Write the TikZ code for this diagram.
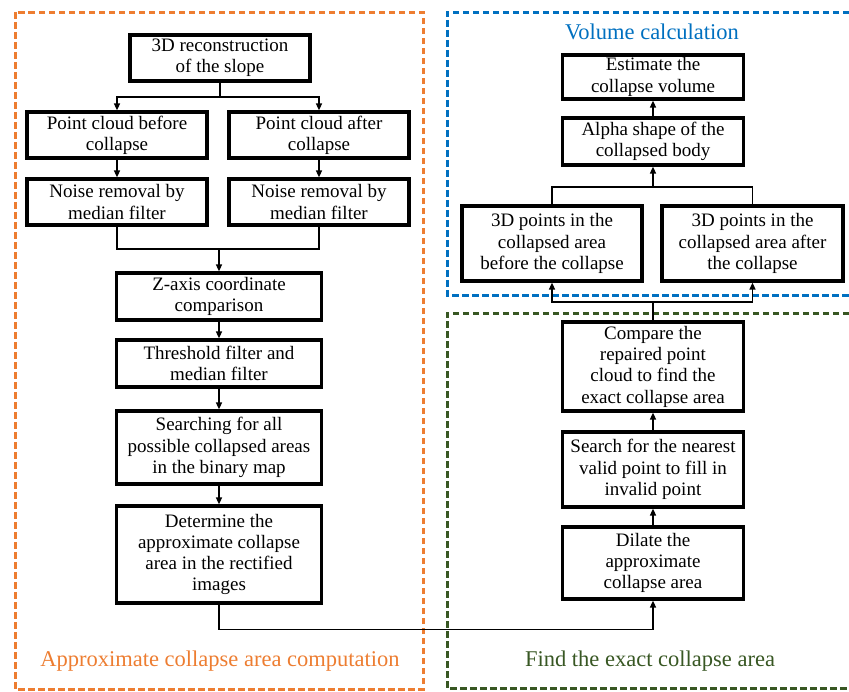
\documentclass[tikz,border=0pt]{standalone}
\usepackage{fontspec}
\setmainfont{Liberation Serif}
\usetikzlibrary{arrows.meta}
\definecolor{orgC}{HTML}{ED7D31}
\definecolor{bluC}{HTML}{0070C0}
\definecolor{grnC}{HTML}{385723}
\tikzset{
  box/.style={draw=black, line width=3.2pt, fill=white, align=center, inner sep=1pt,
     font=\fontsize{19}{21.3}\selectfont},
  smallbox/.style={box, minimum width=180pt, minimum height=46pt},
  arr/.style={line width=1.5pt, -{Triangle[length=7pt,width=6pt]}},
  ln/.style={line width=1.5pt},
  frame/.style={line width=3pt, dash pattern=on 6.5pt off 3.5pt},
  lab/.style={font=\fontsize{22.5}{26}\selectfont}
}
\begin{document}
\begin{tikzpicture}[x=1pt,y=-1pt]
\useasboundingbox (0,0) rectangle (849,691);
% frames
\draw[frame, orgC] (15,12) rectangle (423,689);
\draw[frame, bluC] (849,12) -- (447,12) -- (447,295) -- (849,295);
\draw[frame, grnC] (849,313) -- (447,313) -- (447,688) -- (849,688);
% labels
\node[lab, text=orgC] (labA) at (220,661) {Approximate collapse area computation};
\node[lab, text=bluC] (labV) at (652,32) {Volume calculation};
\node[lab, text=grnC] (labF) at (650,661) {Find the exact collapse area};
% left column
\node[smallbox] (rec) at (220,58) {3D reconstruction\\of the slope};
\node[smallbox] (pcb) at (117,135) {Point cloud before\\collapse};
\node[smallbox] (pca) at (319,135) {Point cloud after\\collapse};
\node[smallbox] (nrb) at (117,202) {Noise removal by\\median filter};
\node[smallbox] (nra) at (319,202) {Noise removal by\\median filter};
\node[box, minimum width=205pt, minimum height=47pt] (zax) at (219,296.5) {Z-axis coordinate\\comparison};
\node[box, minimum width=205pt, minimum height=47pt] (thr) at (219,363.5) {Threshold filter and\\median filter};
\node[box, minimum width=205pt, minimum height=73pt] (sea) at (219,447.5) {Searching for all\\possible collapsed areas\\in the binary map};
\node[box, minimum width=205pt, minimum height=97pt] (det) at (219,554.5) {Determine the\\approximate collapse\\area in the rectified\\images};
% right column
\node[box, minimum width=181pt, minimum height=44pt] (est) at (653,77) {Estimate the\\collapse volume};
\node[box, minimum width=181pt, minimum height=47pt] (alp) at (653,141.5) {Alpha shape of the\\collapsed body};
\node[box, minimum width=180pt, minimum height=75pt] (p3b) at (552,243.5) {3D points in the\\collapsed area\\before the collapse};
\node[box, minimum width=181pt, minimum height=75pt] (p3a) at (752.5,243.5) {3D points in the\\collapsed area after\\the collapse};
\node[box, minimum width=181pt, minimum height=89pt] (cmp) at (653,366.5) {Compare the\\repaired point\\cloud to find the\\exact collapse area};
\node[box, minimum width=181pt, minimum height=75pt] (srn) at (653,469.5) {Search for the nearest\\valid point to fill in\\invalid point};
\node[box, minimum width=181pt, minimum height=72pt] (dil) at (653,563) {Dilate the\\approximate\\collapse area};
% coordinates
\coordinate (jA) at (219,97);
\coordinate (jB) at (219,249);
\coordinate (jC) at (653,187);
\coordinate (jD) at (653,302);
% connectors left
\draw[ln] (rec.south) -- (rec.south |- jA);
\draw[arr] (jA) -| (pcb.north);
\draw[arr] (jA) -| (pca.north);
\draw[arr] (pcb.south) -- (nrb.north);
\draw[arr] (pca.south) -- (nra.north);
\draw[ln] (nrb.south) |- (jB) -| (nra.south);
\draw[arr] (jB) -- (zax.north);
\draw[arr] (zax.south) -- (thr.north);
\draw[arr] (thr.south) -- (sea.north);
\draw[arr] (sea.south) -- (det.north);
\draw[arr] (det.south) -- ++(0,25) -| (dil.south);
% connectors right
\draw[arr] (dil.north) -- (srn.south);
\draw[arr] (srn.north) -- (cmp.south);
\draw[ln] (cmp.north) -- (jD);
\draw[arr] (jD) -| (p3b.south);
\draw[arr] (jD) -| (p3a.south);
\draw[ln] (p3b.north) |- (jC) -| (p3a.north);
\draw[arr] (jC) -- (alp.south);
\draw[arr] (alp.north) -- (est.south);
\end{tikzpicture}
\end{document}
